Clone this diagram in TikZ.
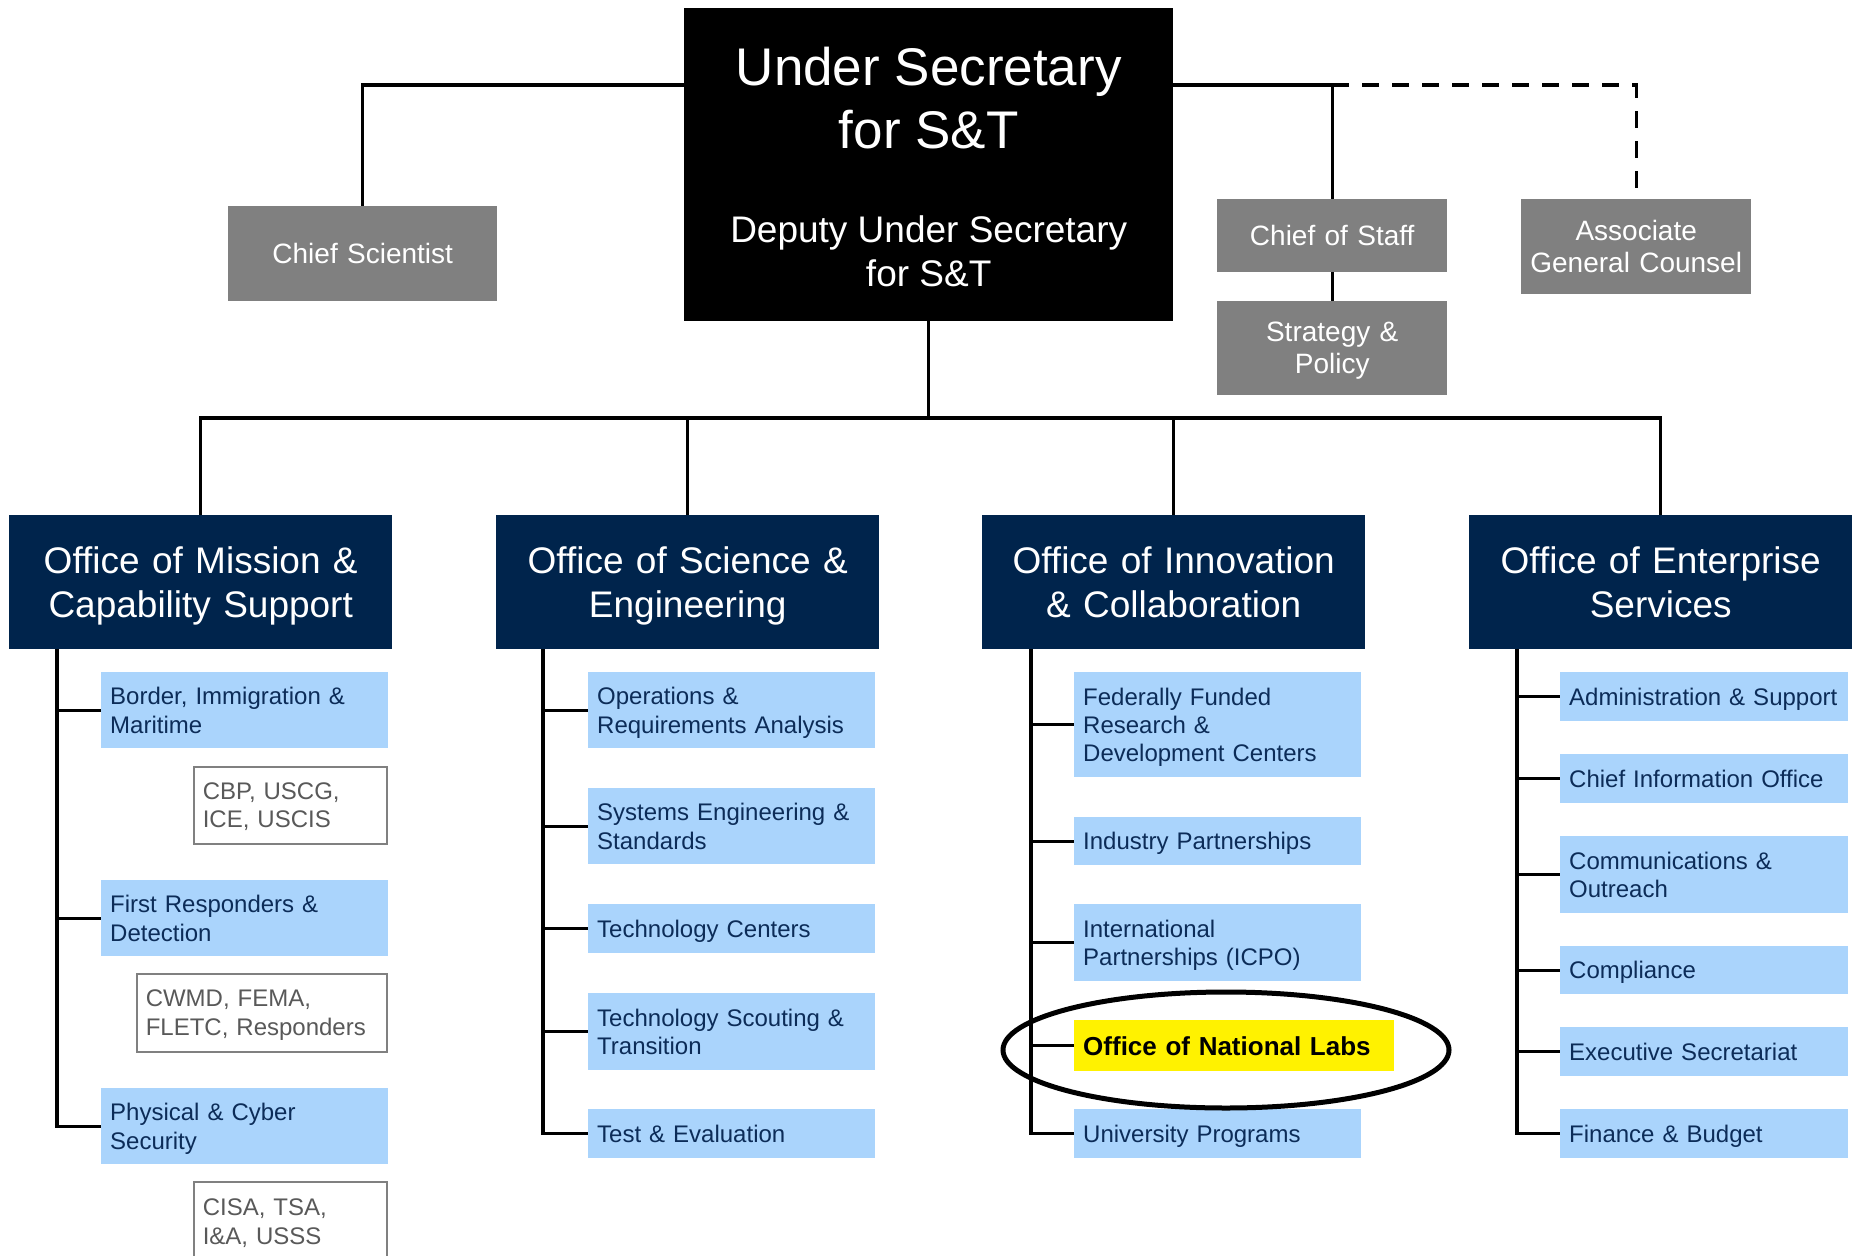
\documentclass[tikz,border=0pt]{standalone}
\usepackage{fontspec}
\setmainfont{Liberation Sans}

\definecolor{navy}{RGB}{0,36,76}
\definecolor{unitblue}{RGB}{170,212,252}
\definecolor{unittext}{RGB}{12,44,88}
\definecolor{staffgray}{RGB}{128,128,128}
\definecolor{compgray}{RGB}{89,89,89}

\tikzset{
  link/.style={draw=black, line width=3.2pt},
  dashlink/.style={link, dash pattern=on 17pt off 13pt},
  box/.style={anchor=north west, inner sep=0pt},
  nodepth/.style={execute at end node={\par\kern-\prevdepth}},
  usbox/.style={box, fill=black, text=white, minimum width=489pt, minimum height=313pt},
  staffbox/.style={box, nodepth, fill=staffgray, text=white, align=center, font=\fontsize{28}{32}\selectfont},
  officebox/.style={box, nodepth, fill=navy, text=white, align=center, text width=365pt, inner xsep=9pt, minimum height=134pt, font=\fontsize{37}{44}\selectfont},
  unitbox/.style={box, nodepth, fill=unitblue, text=unittext, align=left, inner xsep=9pt, text width=269pt, font=\fontsize{24}{28.4}\selectfont},
  compbox/.style={box, nodepth, draw=staffgray, line width=1.5pt, fill=white, text=compgray, align=left, inner xsep=9pt, font=\fontsize{24}{28.4}\selectfont}
}

\begin{document}
\begin{tikzpicture}[x=1pt,y=1pt,yscale=-1]
\useasboundingbox (0,0) rectangle (1856,1256);

% Under Secretary
\node[usbox] (us) at (684,8) {\parbox{470pt}{\centering
  \fontsize{53}{63}\selectfont Under Secretary\\for S\&T\par
  \vspace{50pt}
  \fontsize{37}{44}\selectfont Deputy Under Secretary\\for S\&T\par\kern-4pt}};

% staff offices
\node[staffbox, text width=259pt, inner xsep=5pt, minimum height=95pt] (cs) at (228,206) {Chief Scientist};
\node[staffbox, text width=220pt, inner xsep=5pt, minimum height=73pt] (cos) at (1217,199) {Chief of Staff};
\node[staffbox, text width=220pt, inner xsep=5pt, minimum height=94pt] (sp) at (1217,301) {Strategy \&\\Policy};
\node[staffbox, text width=220pt, inner xsep=5pt, minimum height=95pt] (agc) at (1521,199) {Associate\\General Counsel};

\coordinate (usl) at (us.west |- 0,85);
\coordinate (usr) at (us.east |- 0,85);
\draw[link] (usl) -| (cs.north);
\draw[link] (usr) -| (cos.north);
\draw[dashlink] (usr -| cos.north) -| (agc.north);
\draw[link] (cos.south) -- (sp.north);

% offices
\node[officebox] (mcs) at (9,515) {Office of Mission \&\\Capability Support};
\node[officebox] (ose) at (496,515) {Office of Science \&\\Engineering};
\node[officebox] (oic) at (982,515) {Office of Innovation\\\& Collaboration};
\node[officebox] (oes) at (1469,515) {Office of Enterprise\\Services};

\coordinate (bus) at (us.south |- 0,418);
\draw[link] (us.south) -- (bus);
\draw[link] (mcs.north) |- (bus) -| (oes.north);
\draw[link] (ose.north) -- (ose.north |- bus);
\draw[link] (oic.north) -- (oic.north |- bus);

% Mission & Capability Support
\node[unitbox, minimum height=76pt] (bim) at (101,672) {Border, Immigration \&\\Maritime};
\node[compbox, text width=175pt, minimum height=77pt] (cbp) at (193,766) {CBP, USCG,\\ICE, USCIS};
\node[unitbox, minimum height=76pt] (frd) at (101,880) {First Responders \&\\Detection};
\node[compbox, text width=232pt, minimum height=78pt] (cwmd) at (136,973) {CWMD, FEMA,\\FLETC, Responders};
\node[unitbox, minimum height=76pt] (pcs) at (101,1088) {Physical \& Cyber\\Security};
\node[compbox, text width=175pt, minimum height=80pt] (cisa) at (193,1181) {CISA, TSA,\\I\&A, USSS};

\coordinate (t1) at ([xshift=48pt]mcs.south west);
\draw[link] (t1) |- (pcs.west);
\foreach \n in {bim,frd} \draw[link] (t1 |- \n.west) -- (\n.west);

% Science & Engineering
\node[unitbox, minimum height=76pt] (ora) at (588,672) {Operations \&\\Requirements Analysis};
\node[unitbox, minimum height=76pt] (ses) at (588,788) {Systems Engineering \&\\Standards};
\node[unitbox, minimum height=49pt] (tcn) at (588,904) {Technology Centers};
\node[unitbox, minimum height=77pt] (tst) at (588,993) {Technology Scouting \&\\Transition};
\node[unitbox, minimum height=49pt] (tev) at (588,1109) {Test \& Evaluation};

\coordinate (t2) at ([xshift=47pt]ose.south west);
\draw[link] (t2) |- (tev.west);
\foreach \n in {ora,ses,tcn,tst} \draw[link] (t2 |- \n.west) -- (\n.west);

% Innovation & Collaboration
\node[unitbox, minimum height=105pt] (ffrdc) at (1074,672) {Federally Funded\\Research \&\\Development Centers};
\node[unitbox, minimum height=48pt] (inp) at (1074,817) {Industry Partnerships};
\node[unitbox, minimum height=77pt] (icpo) at (1074,904) {International\\Partnerships (ICPO)};
\node[unitbox, fill=yellow, text=black, text width=302pt, minimum height=51pt, font=\fontsize{26}{30}\selectfont\bfseries] (onl) at (1074,1020) {Office of National Labs};
\node[unitbox, minimum height=49pt] (uni) at (1074,1109) {University Programs};

\coordinate (t3) at ([xshift=49pt]oic.south west);
\draw[link] (t3) |- (uni.west);
\foreach \n in {ffrdc,inp,icpo,onl} \draw[link] (t3 |- \n.west) -- (\n.west);

\draw[line width=5pt] (1226,1050) ellipse [x radius=223, y radius=58];

% Enterprise Services
\node[unitbox, text width=270pt, minimum height=49pt] (ads) at (1560,672) {Administration \& Support};
\node[unitbox, text width=270pt, minimum height=49pt] (cio) at (1560,754) {Chief Information Office};
\node[unitbox, text width=270pt, minimum height=77pt] (cno) at (1560,836) {Communications \&\\Outreach};
\node[unitbox, text width=270pt, minimum height=48pt] (cmp) at (1560,946) {Compliance};
\node[unitbox, text width=270pt, minimum height=49pt] (exs) at (1560,1027) {Executive Secretariat};
\node[unitbox, text width=270pt, minimum height=49pt] (fnb) at (1560,1109) {Finance \& Budget};

\coordinate (t4) at ([xshift=48pt]oes.south west);
\draw[link] (t4) |- (fnb.west);
\foreach \n in {ads,cio,cno,cmp,exs} \draw[link] (t4 |- \n.west) -- (\n.west);

\end{tikzpicture}
\end{document}
